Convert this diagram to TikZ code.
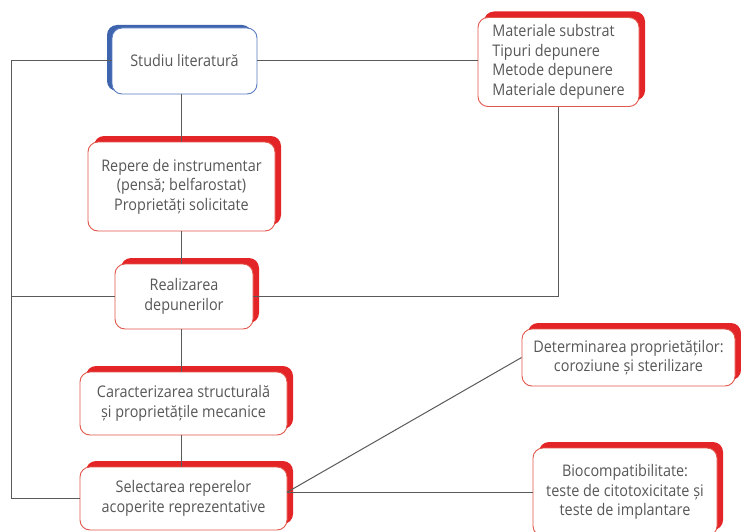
\documentclass[tikz,border=0pt]{standalone}
\usepackage{fontspec}
\setmainfont{Open Sans}[FakeStretch=0.9]
\usetikzlibrary{shadows}
\definecolor{boxred}{HTML}{E42527}
\definecolor{edgered}{HTML}{E2574C}
\definecolor{boxblue}{HTML}{3D64AC}
\definecolor{edgeblue}{HTML}{5A7CC0}
\definecolor{txt}{HTML}{575757}
\definecolor{wirec}{HTML}{5A5A5A}
\begin{document}
\begin{tikzpicture}[x=1pt,y=-1pt,
  font=\fontsize{16}{19.5}\selectfont,
  basebox/.style={line width=0.9pt, fill=white, rounded corners=10pt,
    align=center, text=txt, inner sep=2pt},
  box/.style={basebox, draw=edgered,
    general shadow={fill=boxred, shadow xshift=6pt, shadow yshift=6pt}},
  bluebox/.style={basebox, draw=edgeblue,
    general shadow={fill=boxblue, shadow xshift=-5pt, shadow yshift=3pt}},
  wire/.style={draw=wirec, line width=1pt}]
\useasboundingbox[fill=white] (0,0) rectangle (741,532);

\node[bluebox, minimum width=145pt, minimum height=66pt] (stud) at (184.5,61) {Studiu literatură};
\node[box, minimum width=161pt, minimum height=89pt, align=left] (mat) at (558.5,62) {Materiale substrat\\Tipuri depunere\\Metode depunere\\Materiale depunere};
\node[box, minimum width=187pt, minimum height=89pt] (rep) at (181.5,186.5) {Repere de instrumentar\\(pensă; belfarostat)\\Proprietăți solicitate};
\node[box, minimum width=138pt, minimum height=65pt] (real) at (184,296.5) {Realizarea\\depunerilor};
\node[box, minimum width=207pt, minimum height=63pt] (car) at (183.5,403.5) {Caracterizarea structurală\\și proprietățile mecanice};
\node[box, minimum width=207pt, minimum height=63pt] (sel) at (183.5,498.5) {Selectarea reperelor\\acoperite reprezentative};
\node[box, minimum width=213pt, minimum height=57pt] (det) at (628.5,357.5) {Determinarea proprietăților:\\coroziune și sterilizare};
\node[box, minimum width=184pt, minimum height=88pt] (bio) at (625,492) {Biocompatibilitate:\\teste de citotoxicitate și\\teste de implantare};

\coordinate (lc) at (11,61);
\coordinate (col) at (181,0);
\coordinate (sj) at (sel.east |- bio.west);

\draw[wire] (stud.west) -- (lc) |- (sel.west);
\draw[wire] (real.west) -- (real.west -| lc);
\draw[wire] (stud.east) -- (stud.east -| mat.west);
\draw[wire] (mat.south) |- (real.east);
\draw[wire] (stud.south -| col) -- (rep.north -| col);
\draw[wire] (rep.south -| col) -- (real.north -| col);
\draw[wire] (real.south -| col) -- (car.north -| col);
\draw[wire] (car.south -| col) -- (sel.north -| col);
\draw[wire] (sj) -- (det.west);
\draw[wire] (sj) -- (bio.west);
\end{tikzpicture}
\end{document}
